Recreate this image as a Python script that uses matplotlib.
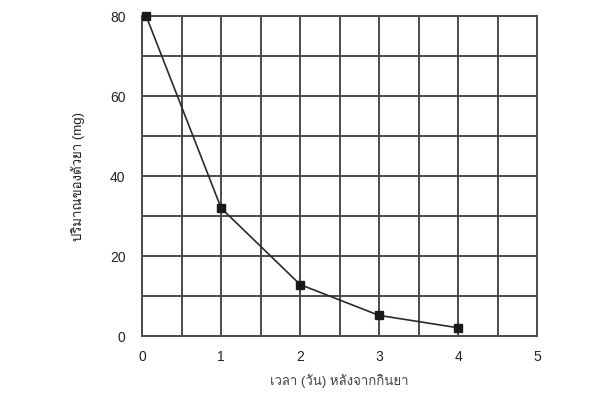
import matplotlib
matplotlib.use("Agg")
import matplotlib.pyplot as plt
from matplotlib import font_manager
from matplotlib.ft2font import FT2Font

# data
days = [0.05, 1, 2, 3, 4]
amount_mg = [80, 32, 12.9, 5.2, 2.1]
x_ticks = [0, 1, 2, 3, 4, 5]
y_ticks = [0, 20, 40, 60, 80]
x_label = "เวลา (วัน) หลังจากกินยา"
y_label = "ปริมาณของตัวยา (mg)"


def find_thai_font():
    seen = set()
    for f in font_manager.fontManager.ttflist:
        if f.fname in seen:
            continue
        seen.add(f.fname)
        try:
            cmap = FT2Font(f.fname).get_charmap()
        except Exception:
            continue
        if ord("ป") in cmap and ord("ม") in cmap:
            return f.name
    return None


thai = find_thai_font()
families = ["Liberation Sans", "DejaVu Sans"]
if thai:
    families = ["Liberation Sans", thai, "DejaVu Sans"]
plt.rcParams["font.family"] = families

fig = plt.figure(figsize=(6, 4.11), dpi=100)
ax = fig.add_axes([0.237, 0.182, 0.658, 0.779])

ax.plot(days, amount_mg, color="#2a2a2a", lw=1.2, marker="s", ms=6,
        mfc="#1a1a1a", mec="#1a1a1a", clip_on=False, zorder=3)

ax.set_xlim(0, 5)
ax.set_ylim(0, 80)
ax.set_xticks([i * 0.5 for i in range(11)], minor=True)
ax.set_yticks([i * 10 for i in range(9)], minor=True)
ax.set_xticks(x_ticks)
ax.set_yticks(y_ticks)
ax.grid(which="both", color="#4a4a4a", lw=1.4)
ax.tick_params(which="both", length=0, labelsize=10, colors="#222222")
ax.tick_params(axis="x", pad=10)
ax.tick_params(axis="y", pad=12)
for s in ax.spines.values():
    s.set_color("#4a4a4a")
    s.set_linewidth(1.4)

ax.set_xlabel(x_label, fontsize=9.5, color="#444444", labelpad=7)
ax.set_ylabel(y_label, fontsize=9.5, color="#222222", labelpad=18)

fig.savefig("out.png", dpi=100)
